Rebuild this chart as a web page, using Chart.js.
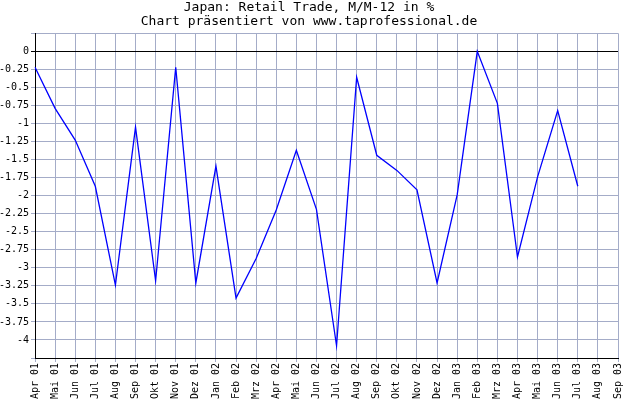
<!DOCTYPE html>
<html>
<head>
<meta charset="utf-8">
<script src="https://cdn.jsdelivr.net/npm/chart.js@4"></script>
<style>
  body { margin: 0; background: #fff; }
  #wrap { width: 640px; height: 400px; position: relative; }
</style>
</head>
<body>
<div id="wrap"><canvas id="grafico"></canvas></div>
<script>
const monate = ["Apr 01","Mai 01","Jun 01","Jul 01","Aug 01","Sep 01","Okt 01","Nov 01","Dez 01",
  "Jan 02","Feb 02","Mrz 02","Apr 02","Mai 02","Jun 02","Jul 02","Aug 02","Sep 02","Okt 02","Nov 02","Dez 02",
  "Jan 03","Feb 03","Mrz 03","Apr 03","Mai 03","Jun 03","Jul 03","Aug 03","Sep 03"];
const werte = [-0.22,-0.79,-1.23,-1.87,-3.24,-1.05,-3.18,-0.22,-3.21,
  -1.59,-3.42,-2.87,-2.2,-1.37,-2.19,-4.08,-0.36,-1.44,-1.65,-1.92,-3.21,
  -1.99,0,-0.72,-2.85,-1.74,-0.82,-1.87,null,null];
const titel = ["Japan: Retail Trade, M/M-12 in %", "Chart präsentiert von www.taprofessional.de"];

const schrift = { family: "DejaVu Sans Mono", size: 10 };

new Chart(document.getElementById("grafico"), {
  type: "line",
  data: {
    labels: monate,
    datasets: [{
      data: werte,
      borderColor: "#0000ff",
      borderWidth: 1.3,
      pointRadius: 0,
      tension: 0,
      fill: false
    }]
  },
  options: {
    responsive: true,
    maintainAspectRatio: false,
    animation: false,
    layout: { padding: { top: 1, right: 22 } },
    plugins: {
      legend: { display: false },
      tooltip: { enabled: false },
      title: {
        display: true,
        text: titel,
        color: "#000",
        font: { family: "DejaVu Sans Mono", size: 13, weight: "normal", lineHeight: 1.05 },
        padding: { top: 0, bottom: 5 }
      }
    },
    scales: {
      x: {
        offset: false,
        grid: { color: "#a4acc8", drawTicks: true, tickLength: 4 },
        border: { color: "#000" },
        ticks: { color: "#000", font: schrift, maxRotation: 90, minRotation: 90, autoSkip: false, padding: 1 },
        afterFit: (s) => { s.height = 42; }
      },
      y: {
        min: -4.25,
        max: 0.25,
        grid: {
          color: (c) => c.tick && c.tick.value === 0 ? "#000" : "#a4acc8",
          drawTicks: true, tickLength: 4
        },
        border: { color: "#000" },
        ticks: {
          stepSize: 0.25,
          color: "#000",
          font: schrift,
          padding: 2,
          callback: (v) => (v > 0.1 || v < -4.1) ? "" : String(Math.round(v * 100) / 100)
        },
        afterFit: (s) => { s.width = 35; }
      }
    }
  }
});
</script>
</body>
</html>
